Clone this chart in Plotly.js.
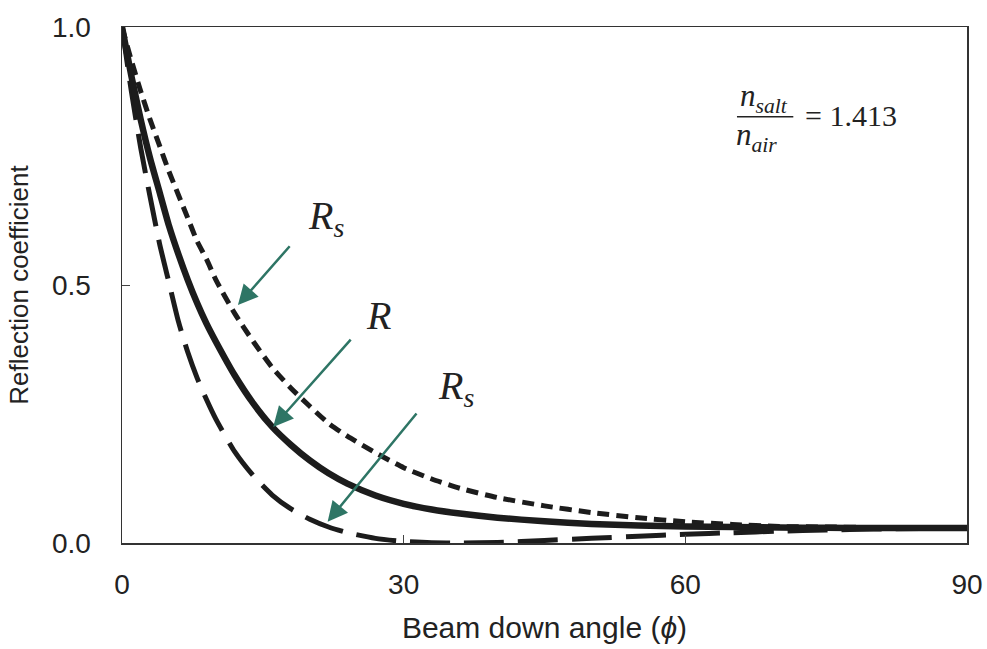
<!DOCTYPE html>
<html>
<head>
<meta charset="utf-8">
<script src="https://cdn.plot.ly/plotly-3.0.1.min.js"></script>
<style>html,body{margin:0;padding:0;background:#fff;}#chart{width:987px;height:649px;}</style>
</head>
<body>
<div id="chart"></div>
<script>
// Beam down angle (degrees)
const angle = [0,1,2,3,4,5,6,7,8,9,10,12,14,16,18,20,22,24,27,30,33,36,40,45,50,55,60,65,70,75,80,85,90];
// Rs (upper, short dash)
const rsUpper = [1.0,0.935,0.875,0.82,0.77,0.72,0.675,0.63,0.585,0.55,0.51,0.445,0.39,0.34,0.30,0.265,0.232,0.207,0.175,0.146,0.124,0.106,0.088,0.072,0.059,0.049,0.041,0.036,0.032,0.031,0.030,0.029,0.029];
// R (solid)
const rTotal = [1.0,0.905,0.82,0.745,0.68,0.615,0.56,0.51,0.465,0.425,0.39,0.325,0.27,0.225,0.19,0.16,0.135,0.115,0.092,0.076,0.065,0.057,0.049,0.042,0.037,0.034,0.032,0.031,0.030,0.0295,0.029,0.029,0.029];
// Rs (lower, long dash)
const rsLower = [1.0,0.875,0.765,0.67,0.58,0.505,0.43,0.37,0.32,0.278,0.24,0.177,0.13,0.093,0.066,0.046,0.031,0.02,0.009,0.003,0.0005,0.0,0.001,0.005,0.009,0.013,0.017,0.02,0.023,0.025,0.027,0.028,0.029];

const xTicks = [0,30,60,90];
const yTicks = [0,0.5,1.0];
const yTickText = ['0.0','0.5','1.0'];

const ink = '#1c1c1c';
const teal = '#2e7565';
const serif = 'Liberation Serif, Times New Roman, serif';
const sans = 'Liberation Sans, Arial, sans-serif';

const traces = [
  {x: angle, y: rsUpper, mode: 'lines', line: {color: ink, width: 5, dash: '12px,7px', shape: 'spline', smoothing: 0.6}, hoverinfo: 'skip'},
  {x: angle, y: rsLower, mode: 'lines', line: {color: ink, width: 5, dash: '40px,14px', shape: 'spline', smoothing: 0.6}, hoverinfo: 'skip'},
  {x: angle, y: rTotal, mode: 'lines', line: {color: ink, width: 6.5, shape: 'spline', smoothing: 0.6}, hoverinfo: 'skip'}
];

function arrow(x, y, ax, ay) {
  return {x: x, y: y, ax: ax, ay: ay, xref: 'x', yref: 'y', axref: 'x', ayref: 'y',
    showarrow: true, arrowhead: 2, arrowsize: 1.6, arrowwidth: 2.5, arrowcolor: teal, text: ''};
}
function label(x, y, txt, size) {
  return {x: x, y: y, xref: 'x', yref: 'y', showarrow: false, text: txt,
    font: {family: serif, size: size, color: '#222'}};
}

const layout = {
  width: 987, height: 649,
  margin: {l: 122, r: 20, t: 27, b: 106},
  paper_bgcolor: '#fff', plot_bgcolor: '#fff',
  showlegend: false,
  xaxis: {
    range: [0, 90], tickvals: xTicks, ticks: 'inside', ticklen: 8, tickwidth: 1, tickcolor: '#444',
    showgrid: false, zeroline: false, showline: true, mirror: true, linecolor: '#333', linewidth: 1.5,
    tickfont: {family: sans, size: 28, color: '#222'}, ticklabelstandoff: 16,
    title: {text: 'Beam down angle (<i>ϕ</i>)', font: {family: sans, size: 30, color: '#222'}, standoff: 18}
  },
  yaxis: {
    range: [0, 1], tickvals: yTicks, ticktext: yTickText, ticks: 'inside', ticklen: 8, tickwidth: 1, tickcolor: '#444',
    showgrid: false, zeroline: false, showline: true, mirror: true, linecolor: '#333', linewidth: 1.5,
    tickfont: {family: sans, size: 28, color: '#222'}, ticklabelstandoff: 24,
    title: {text: 'Reflection coefficient', font: {family: sans, size: 26, color: '#222'}, standoff: 16}
  },
  annotations: [
    arrow(12.35, 0.461, 18.0, 0.578),
    arrow(16.1, 0.225, 24.5, 0.397),
    arrow(21.9, 0.041, 31.5, 0.254),
    label(21.7, 0.63, '<i>R</i><sub><i>s</i></sub>', 40),
    label(27.3, 0.44, '<i>R</i>', 40),
    label(35.6, 0.30, '<i>R</i><sub><i>s</i></sub>', 40),
    label(68.4, 0.862, '<i>n</i><sub><i>salt</i></sub>', 31),
    label(67.6, 0.787, '<i>n</i><sub><i>air</i></sub>', 31),
    label(77.6, 0.829, '= 1.413', 30)
  ],
  shapes: [
    {type: 'line', xref: 'x', yref: 'y', x0: 65.5, x1: 71.5, y0: 0.826, y1: 0.826, line: {color: '#222', width: 1.5}}
  ]
};

Plotly.newPlot('chart', traces, layout, {displayModeBar: false, staticPlot: true});
</script>
</body>
</html>
